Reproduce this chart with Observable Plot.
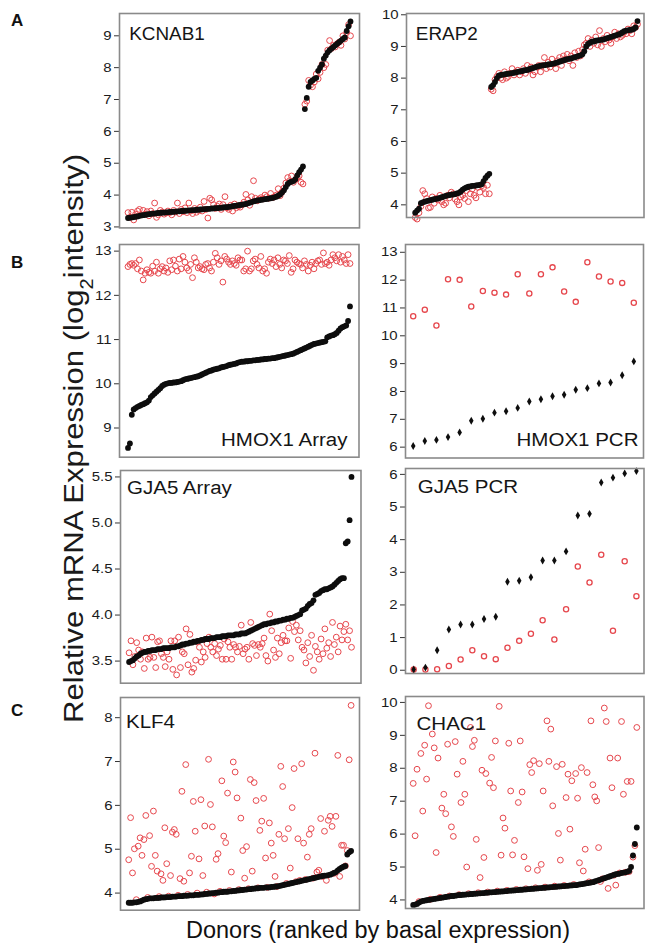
<!DOCTYPE html>
<html><head><meta charset="utf-8">
<script src="https://cdn.jsdelivr.net/npm/d3@7"></script>
<script src="https://cdn.jsdelivr.net/npm/@observablehq/plot@0.6"></script>
<style>
body{margin:0;background:#fff;}
#fig{position:relative;width:645px;height:945px;background:#fff;overflow:hidden;font-family:"Liberation Sans",Arial,sans-serif;}
#fig svg.panel{position:absolute;max-width:none;}
#overlay{position:absolute;left:0;top:0;pointer-events:none;}
</style></head><body><div id="fig"></div>
<script>
// ---------- DATA ----------
const kcnab1Basal = [
3.28,3.29,3.30,3.31,3.32,3.33,3.35,3.36,3.37,3.38,
3.39,3.40,3.41,3.42,3.42,3.43,3.44,3.44,3.45,3.45,
3.46,3.46,3.47,3.47,3.48,3.48,3.49,3.49,3.50,3.50,
3.51,3.51,3.52,3.52,3.53,3.53,3.54,3.54,3.55,3.55,
3.56,3.56,3.57,3.57,3.58,3.58,3.59,3.59,3.60,3.60,
3.61,3.62,3.62,3.63,3.64,3.65,3.66,3.67,3.68,3.69,
3.70,3.71,3.72,3.74,3.76,3.78,3.80,3.82,3.83,3.84,
3.85,3.86,3.87,3.88,3.89,3.90,3.91,3.93,3.95,3.98,
4.02,4.08,4.15,4.25,4.35,4.40,4.42,4.44,4.50,4.62,
4.72,4.80,4.90,
6.70,7.05,7.40,7.55,7.60,7.65,7.68,7.90,8.00,8.10,
8.28,8.38,8.48,8.55,8.60,8.65,8.70,8.75,8.80,8.85,
8.90,8.95,9.15,9.30,9.45];
const kcnab1Treated = [
3.45,3.30,3.46,3.22,3.40,3.50,3.55,3.38,3.52,3.40,
3.48,3.35,3.50,3.42,3.75,3.30,3.38,3.52,3.47,3.40,
3.44,3.50,3.45,3.38,3.52,3.47,3.75,3.42,3.55,3.48,
3.60,3.45,3.75,3.50,3.42,3.58,3.46,3.52,3.62,3.50,
3.80,3.55,3.28,3.90,3.85,3.70,3.58,3.65,3.72,3.55,
3.70,3.95,3.60,3.55,3.68,3.50,3.72,3.60,3.65,3.62,
3.70,3.78,4.02,3.85,3.68,3.95,4.45,3.90,3.82,3.88,
3.92,3.88,4.00,3.95,3.90,4.05,3.92,3.95,4.00,4.20,
3.98,4.10,4.22,4.38,4.55,4.45,4.60,4.40,4.48,4.55,
4.60,4.40,4.35,
6.85,6.95,7.60,7.45,7.40,7.55,7.80,7.65,7.85,8.10,
8.00,8.10,8.55,8.85,8.60,8.70,8.65,8.75,8.80,8.70,
9.00,8.90,9.10,9.35,9.00];

const erap2Basal = [
3.75,3.82,3.88,4.05,4.08,4.10,4.12,4.13,4.15,4.16,
4.18,4.19,4.20,4.22,4.24,4.26,4.28,4.30,4.31,4.32,
4.33,4.34,4.36,4.38,4.42,4.48,4.52,4.55,4.57,4.58,
4.60,4.60,4.61,4.62,4.63,4.65,4.75,4.85,4.92,4.98,
7.72,7.78,7.88,8.00,8.08,8.10,8.11,8.12,8.13,8.14,
8.15,8.16,8.17,8.18,8.20,8.21,8.22,8.24,8.25,8.26,
8.28,8.30,8.32,8.34,8.36,8.38,8.39,8.40,8.41,8.42,
8.43,8.44,8.45,8.46,8.48,8.50,8.52,8.54,8.56,8.58,
8.60,8.61,8.62,8.64,8.66,8.68,8.70,8.72,8.75,8.85,
9.00,9.08,9.12,9.15,9.16,9.18,9.19,9.20,9.21,9.22,
9.24,9.26,9.28,9.30,9.32,9.34,9.36,9.38,9.40,9.44,
9.48,9.50,9.51,9.52,9.53,9.55,9.60,9.80];
const erap2Treated = [
3.60,3.55,3.75,3.95,4.45,4.35,4.20,3.90,3.92,4.25,
4.05,4.20,4.15,4.30,4.10,4.00,4.05,4.30,4.22,4.40,
4.35,4.18,4.10,4.00,4.25,4.30,4.20,4.45,4.10,4.35,
4.50,4.30,4.22,4.55,4.40,4.60,4.55,4.35,4.62,4.35,
7.65,7.60,7.95,8.05,8.15,8.00,7.95,8.20,8.00,8.05,
8.15,8.30,8.10,8.20,8.25,8.10,8.20,8.30,8.15,8.40,
8.25,8.35,8.10,8.20,8.35,8.40,8.20,8.40,8.65,8.30,
8.50,8.35,8.60,8.45,8.30,8.55,8.65,8.40,8.70,8.60,
8.75,8.55,8.70,8.40,8.80,8.65,8.85,8.70,8.90,9.05,
9.10,9.25,9.00,9.20,9.10,9.30,9.05,9.50,9.00,9.25,
9.15,9.35,9.20,9.10,9.30,9.45,9.25,9.40,9.30,9.35,
9.45,9.40,9.55,9.50,9.40,9.65,9.60,9.70];

const hmox1ArrayBasal = [
8.55,8.65,9.30,9.42,9.45,9.48,9.50,9.52,9.54,9.56,
9.58,9.62,9.70,9.74,9.78,9.82,9.86,9.90,9.95,9.98,
10.00,10.01,10.02,10.02,10.03,10.03,10.04,10.05,10.06,10.08,
10.10,10.11,10.12,10.13,10.14,10.15,10.16,10.17,10.19,10.21,
10.23,10.25,10.27,10.29,10.30,10.32,10.33,10.34,10.35,10.37,
10.38,10.39,10.40,10.42,10.43,10.44,10.45,10.46,10.48,10.49,
10.50,10.50,10.51,10.51,10.52,10.52,10.53,10.53,10.54,10.54,
10.55,10.55,10.56,10.56,10.57,10.57,10.58,10.58,10.59,10.60,
10.61,10.62,10.63,10.64,10.65,10.66,10.67,10.68,10.70,10.72,
10.74,10.76,10.78,10.80,10.82,10.84,10.86,10.88,10.90,10.91,
10.92,10.93,10.94,10.95,10.96,11.05,11.07,11.09,11.10,11.12,
11.15,11.20,11.25,11.28,11.30,11.32,11.42,11.75];
const hmox1ArrayTreated = [
12.65,12.70,12.72,12.68,12.72,12.60,12.80,12.55,12.35,12.50,
12.58,12.52,12.50,12.66,12.55,12.75,12.50,12.60,12.65,12.55,
12.62,12.52,12.78,12.58,12.80,12.66,12.55,12.82,12.60,12.88,
12.75,12.62,12.56,12.70,12.40,12.85,12.75,12.62,12.65,12.60,
12.58,12.70,12.72,12.62,12.55,12.75,12.95,12.85,12.70,12.78,
12.30,12.88,12.82,12.75,12.70,12.78,12.72,12.68,12.85,12.80,
12.80,12.55,12.60,13.00,12.55,12.60,12.78,12.82,12.70,12.62,
12.88,12.55,12.60,12.50,12.75,12.82,12.72,12.80,12.65,12.85,
12.70,12.62,12.80,12.78,12.72,12.90,12.52,12.60,12.80,12.75,
12.72,12.70,12.62,12.78,12.70,12.55,12.68,12.75,12.60,12.72,
12.78,12.80,12.70,12.96,12.72,12.75,12.68,12.80,12.92,12.85,
12.78,12.92,12.75,12.88,12.80,12.72,12.92,12.72];

const hmox1PcrBasal = [6.04,6.22,6.26,6.36,6.53,6.95,7.02,7.24,7.29,7.41,7.64,7.72,7.83,7.88,8.06,8.12,8.29,8.32,8.58,9.08];
const hmox1PcrTreated = [10.70,10.94,10.37,12.03,12.01,11.05,11.61,11.55,11.48,12.21,11.52,12.21,12.46,11.59,11.22,12.64,12.13,11.95,11.90,11.19];

const gja5ArrayBasal = [
3.49,3.50,3.51,3.53,3.55,3.56,3.58,3.59,3.60,3.60,
3.61,3.61,3.62,3.62,3.62,3.63,3.63,3.63,3.64,3.64,
3.64,3.64,3.65,3.65,3.65,3.66,3.66,3.67,3.68,3.68,
3.69,3.69,3.70,3.70,3.71,3.71,3.72,3.72,3.73,3.73,
3.74,3.74,3.74,3.75,3.75,3.75,3.76,3.76,3.76,3.77,
3.77,3.77,3.78,3.78,3.78,3.78,3.79,3.79,3.79,3.80,
3.80,3.80,3.81,3.82,3.83,3.84,3.85,3.86,3.87,3.88,
3.89,3.90,3.90,3.91,3.91,3.92,3.92,3.93,3.93,3.94,
3.94,3.95,3.95,3.96,3.96,3.97,3.97,3.98,3.99,4.00,
4.01,4.05,4.06,4.07,4.10,4.12,4.13,4.16,4.22,4.23,
4.24,4.26,4.27,4.28,4.28,4.29,4.30,4.31,4.33,4.35,
4.37,4.39,4.40,4.40,4.78,4.80,5.03,5.50];
const gja5ArrayTreated = [
3.59,3.72,3.46,3.55,3.70,3.62,3.52,3.60,3.42,3.75,
3.52,3.54,3.76,3.54,3.43,3.71,3.72,3.58,3.54,3.44,
3.60,3.52,3.72,3.41,3.72,3.35,3.76,3.43,3.60,3.58,
3.85,3.46,3.79,3.38,3.42,3.51,3.71,3.65,3.49,3.60,
3.54,3.69,3.76,3.65,3.60,3.69,3.56,3.63,3.67,3.52,
3.74,3.52,3.71,3.65,3.52,3.68,3.65,3.60,3.66,3.89,
3.58,3.63,3.65,3.52,3.92,3.69,3.67,3.56,3.68,3.65,
3.69,3.75,3.56,3.50,4.01,3.83,3.62,3.54,3.75,3.58,
3.70,3.78,3.72,3.72,3.86,3.53,3.93,3.82,3.89,3.73,
3.83,3.65,3.62,3.48,3.70,3.55,3.78,3.40,3.66,3.60,
3.52,3.74,3.58,3.85,3.64,3.70,3.55,3.92,3.68,3.76,
3.60,3.88,3.73,3.82,3.90,3.73,3.83,3.65];

const gja5PcrBasal = [0.02,0.08,0.61,1.25,1.40,1.40,1.57,1.64,2.71,2.74,2.85,3.36,3.36,3.64,4.74,4.79,5.75,5.90,6.03,6.10];
const gja5PcrTreated = [0.02,0.02,0.03,0.13,0.33,0.61,0.43,0.34,0.69,0.90,1.12,1.53,0.94,1.87,3.18,2.69,3.54,1.21,3.34,2.27];

const klf4Basal = [
3.78,3.78,3.78,3.79,3.79,3.80,3.81,3.83,3.85,3.86,
3.87,3.88,3.88,3.88,3.89,3.89,3.89,3.90,3.90,3.90,
3.91,3.91,3.91,3.92,3.92,3.92,3.93,3.93,3.93,3.94,
3.94,3.94,3.95,3.95,3.95,3.96,3.96,3.96,3.97,3.97,
3.98,3.98,3.99,3.99,4.00,4.00,4.01,4.01,4.02,4.02,
4.03,4.03,4.03,4.04,4.04,4.05,4.05,4.06,4.06,4.07,
4.07,4.08,4.08,4.09,4.09,4.10,4.10,4.11,4.11,4.12,
4.12,4.12,4.13,4.13,4.13,4.14,4.14,4.15,4.15,4.16,
4.17,4.18,4.19,4.20,4.21,4.22,4.23,4.24,4.25,4.26,
4.27,4.28,4.29,4.30,4.31,4.32,4.33,4.34,4.35,4.36,
4.37,4.38,4.39,4.40,4.40,4.41,4.42,4.44,4.46,4.48,
4.52,4.55,4.58,4.60,4.62,4.88,4.93,4.96];
const klf4Treated = [
4.76,5.72,4.46,5.01,3.85,5.07,5.26,4.86,5.22,5.77,
3.90,5.31,4.61,5.87,4.86,4.50,3.92,4.44,4.29,5.49,
4.67,3.93,4.40,5.39,5.45,5.34,3.95,4.33,6.32,4.27,
6.93,3.97,4.46,4.84,6.09,5.41,4.00,4.78,6.13,4.40,
5.53,4.02,7.05,6.02,5.51,3.98,4.77,4.90,4.04,6.56,
5.30,5.15,6.28,4.06,4.48,6.99,6.76,6.17,4.08,5.71,
4.97,4.34,5.06,4.10,6.59,4.50,6.52,6.11,4.12,5.43,
5.64,6.16,4.80,4.13,5.60,5.14,4.86,4.38,4.15,5.34,
6.89,6.43,5.24,4.22,5.47,4.57,5.95,6.84,4.26,5.24,
4.29,6.95,5.14,4.31,4.82,5.34,5.47,4.34,7.19,4.48,
4.52,5.70,4.38,5.41,4.29,5.66,5.75,5.52,4.45,5.75,
7.14,4.38,5.09,5.09,4.62,4.97,7.04,8.28];

const chac1Basal = [
3.85,3.86,3.88,3.92,3.95,3.97,3.98,3.99,4.00,4.01,
4.02,4.03,4.04,4.05,4.06,4.07,4.08,4.09,4.10,4.11,
4.12,4.12,4.13,4.14,4.15,4.15,4.16,4.16,4.17,4.17,
4.18,4.18,4.19,4.19,4.20,4.20,4.21,4.21,4.22,4.22,
4.23,4.23,4.24,4.24,4.25,4.25,4.26,4.26,4.27,4.27,
4.28,4.28,4.29,4.29,4.30,4.30,4.31,4.31,4.32,4.32,
4.33,4.33,4.34,4.34,4.35,4.35,4.36,4.36,4.37,4.37,
4.38,4.38,4.39,4.39,4.40,4.40,4.41,4.41,4.42,4.42,
4.43,4.43,4.44,4.44,4.45,4.45,4.46,4.47,4.48,4.49,
4.50,4.51,4.52,4.53,4.54,4.56,4.58,4.60,4.62,4.64,
4.66,4.68,4.70,4.72,4.74,4.76,4.78,4.79,4.80,4.82,
4.83,4.84,4.86,4.88,5.00,5.35,5.70,6.20];
const chac1Treated = [
7.54,5.95,7.97,3.95,8.45,6.70,8.70,7.67,9.90,4.02,
9.04,8.62,5.44,8.31,4.08,6.79,7.21,6.62,8.73,4.12,
6.22,5.93,8.81,7.82,4.16,6.96,8.21,7.21,5.00,4.19,
9.24,8.66,8.85,5.84,4.22,4.68,7.94,5.29,7.84,4.24,
7.55,8.33,7.41,8.83,4.27,9.88,5.36,6.49,6.18,4.29,
8.76,7.31,5.37,5.81,4.32,6.96,8.83,7.28,5.31,4.34,
4.95,8.11,7.87,8.23,4.37,4.90,8.14,5.08,7.31,4.39,
9.44,8.21,9.19,6.86,4.42,8.05,6.02,5.21,8.12,4.44,
7.11,7.82,6.15,7.62,4.47,7.84,7.09,5.13,8.02,4.88,
5.54,7.87,4.55,9.44,7.50,7.13,7.01,5.59,4.56,4.64,
9.83,9.42,4.35,8.31,7.41,4.75,4.45,8.31,4.82,9.42,
7.21,4.84,7.60,4.86,7.60,5.30,5.65,9.24];

const panelNames = ["KCNAB1","ERAP2","HMOX1 Array","HMOX1 PCR","GJA5 Array","GJA5 PCR","KLF4","CHAC1"];
const panelLetters = ["A","B","C"];
const yTicks = [
  [3,4,5,6,7,8,9],[4,5,6,7,8,9,10],[9,10,11,12,13],[6,7,8,9,10,11,12,13],
  [3.5,4.0,4.5,5.0,5.5],[0,1,2,3,4,5,6],[4,5,6,7,8],[4,5,6,7,8,9,10]];
const yLabelMain = "Relative mRNA Expression (log";
const yLabelSub = "2";
const yLabelEnd = "intensity)";
const xLabel = "Donors (ranked by basal expression)";

// ---------- LAYOUT ----------
const series = [
  [kcnab1Basal,kcnab1Treated],[erap2Basal,erap2Treated],
  [hmox1ArrayBasal,hmox1ArrayTreated],[hmox1PcrBasal,hmox1PcrTreated],
  [gja5ArrayBasal,gja5ArrayTreated],[gja5PcrBasal,gja5PcrTreated],
  [klf4Basal,klf4Treated],[chac1Basal,chac1Treated]];
const layout = [
  {fl:118.5,fr:358.5,ft:13.3,fb:227.7,yd:[2.97,9.70],il:8.5,ir:9,   anchor:"top-left",dx:9.7,dy:13.7,fs:17.5},
  {fl:405.5,fr:643,ft:12.7,fb:216.7,yd:[3.60,10.04],il:8.7,ir:6.5, anchor:"top-left",dx:9.3,dy:14.5,fs:17.5},
  {fl:119,fr:358.5,ft:244,fb:456.7,yd:[8.34,13.15],il:8.5,ir:9,     anchor:"bottom-right",dx:-11.5,dy:-24.5,fs:19},
  {fl:405,fr:643,ft:244,fb:457.5,yd:[5.61,13.28],il:7.7,ir:9.7,     anchor:"bottom-right",dx:-5,dy:-25.2,fs:19},
  {fl:119.5,fr:360,ft:470,fb:682.7,yd:[3.26,5.57],il:8.6,ir:9.5,    anchor:"top-left",dx:6.5,dy:9.8,fs:19},
  {fl:404.5,fr:643,ft:468.3,fb:673.3,yd:[-0.10,6.18],il:8.2,ir:7.6, anchor:"top-left",dx:12.2,dy:10.5,fs:19},
  {fl:119.5,fr:358.5,ft:697.3,fb:910,yd:[3.61,8.46],il:8.2,ir:8.4,  anchor:"top-left",dx:5.5,dy:17.5,fs:19},
  {fl:405,fr:643.5,ft:695.7,fb:907.7,yd:[3.74,10.18],il:7.7,ir:7.2, anchor:"top-left",dx:11,dy:20.1,fs:19}
];

// widen glyphs horizontally (the source figure is slightly stretched)
function widen(nodes, f) {
  nodes.forEach(t => {
    const w = t.getComputedTextLength();
    if (w > 0) {
      t.setAttribute("textLength", (w * f).toFixed(2));
      t.setAttribute("lengthAdjust", "spacingAndGlyphs");
    }
  });
}

const fig = document.getElementById("fig");
const RED = "#e6474d";
layout.forEach((p, k) => {
  const [basal, treated] = series[k];
  const isPcr = basal.length < 40;
  const data = basal.map((v, i) => ({i, basal: v, treated: treated[i]}));
  const ML = 46, MR = 2, MT = 3, MB = 3;
  const W = p.fr - p.fl + ML + MR, H = p.fb - p.ft + MT + MB;
  const fmt = k === 4 ? d3.format(".1f") : d3.format("d");
  const svg = Plot.plot({
    width: W, height: H,
    marginLeft: ML, marginRight: MR, marginTop: MT, marginBottom: MB,
    style: {background: "transparent", fontFamily: "'Liberation Sans', Arial, sans-serif", fontSize: "13px", color: "#1b1b1b", overflow: "visible"},
    x: {domain: [0, basal.length - 1], axis: null, insetLeft: p.il, insetRight: p.ir},
    y: {domain: p.yd},
    marks: [
      Plot.axisY({ticks: yTicks[k], tickFormat: fmt, tickSize: 5, tickPadding: 3, label: null, stroke: "#333"}),
      Plot.dot(data, {x: "i", y: "treated", r: isPcr ? 2.6 : 2.9, stroke: RED, strokeWidth: isPcr ? 1.3 : 1, fill: "none"}),
      Plot.dot(data, {x: "i", y: "basal", r: isPcr ? 2.4 : 2.9, fill: "#0d0d0d", stroke: "none", symbol: isPcr ? "diamond" : "circle"}),
      Plot.frame({stroke: "#8a8a8a", strokeWidth: 1.6}),
      Plot.text([panelNames[k]], {text: d => d, frameAnchor: p.anchor,
        textAnchor: p.anchor === "top-left" ? "start" : "end", lineAnchor: "top",
        dx: p.dx, dy: p.dy, fontSize: p.fs, fill: "#151515"})
    ]
  });
  svg.classList.add("panel");
  svg.style.left = (p.fl - ML) + "px";
  svg.style.top = (p.ft - MT) + "px";
  fig.appendChild(svg);
  widen(svg.querySelectorAll('g[aria-label="y-axis tick label"] text'), 1.15);
  widen(svg.querySelectorAll('g[aria-label="text"] text'), 1.08);
});

// ---------- shared labels ----------
const ns = "http://www.w3.org/2000/svg";
const ov = document.createElementNS(ns, "svg");
ov.setAttribute("id", "overlay");
ov.setAttribute("width", 645); ov.setAttribute("height", 945);
ov.style.fontFamily = "'Liberation Sans', Arial, sans-serif";
const letterY = [26, 268, 716];
panelLetters.forEach((L, j) => {
  const t = document.createElementNS(ns, "text");
  t.setAttribute("x", 11); t.setAttribute("y", letterY[j]);
  t.setAttribute("font-size", 17); t.setAttribute("font-weight", "bold");
  t.setAttribute("fill", "#111");
  t.textContent = L;
  ov.appendChild(t);
});
const yl = document.createElementNS(ns, "text");
yl.setAttribute("transform", "translate(83,438.5) rotate(-90) scale(1.11,1)");
yl.setAttribute("text-anchor", "middle");
yl.setAttribute("font-size", 28);
yl.setAttribute("fill", "#1a1a1a");
yl.appendChild(document.createTextNode(yLabelMain));
const sub = document.createElementNS(ns, "tspan");
sub.setAttribute("baseline-shift", "sub"); sub.setAttribute("font-size", 18);
sub.textContent = yLabelSub;
yl.appendChild(sub);
const rest = document.createElementNS(ns, "tspan");
rest.setAttribute("font-size", 28);
rest.textContent = yLabelEnd;
yl.appendChild(rest);
ov.appendChild(yl);
const xl = document.createElementNS(ns, "text");
xl.setAttribute("x", 378); xl.setAttribute("y", 938);
xl.setAttribute("text-anchor", "middle");
xl.setAttribute("font-size", 23.5);
xl.setAttribute("fill", "#111");
xl.textContent = xLabel;
ov.appendChild(xl);
fig.appendChild(ov);
</script>
</body></html>
